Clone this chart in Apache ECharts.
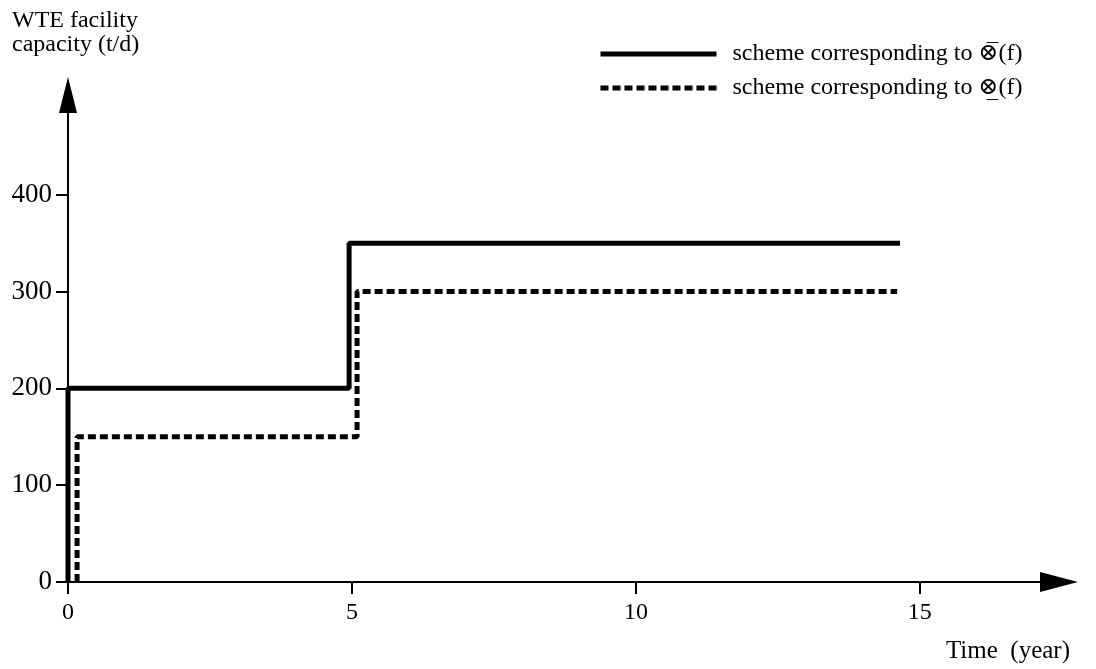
<!DOCTYPE html>
<html>
<head>
<meta charset="utf-8">
<script src="https://cdn.jsdelivr.net/npm/echarts@6/dist/echarts.min.js"></script>
<style>
html,body{margin:0;padding:0;background:#fff;}
#chart{width:1096px;height:669px;}
</style>
</head>
<body>
<div id="chart"></div>
<script>
// Data
const seriesNames = ['scheme corresponding to \u2297\u0305(f)', 'scheme corresponding to \u2297\u0332(f)'];
const solidX = [0, 0, 4.95, 4.95, 14.65];
const solidY = [0, 200, 200, 350, 350];
const dashedX = [0.16, 0.16, 5.09, 5.09, 14.6];
const dashedY = [0, 150, 150, 300, 300];
const xTicks = [0, 5, 10, 15];
const yTicks = [0, 100, 200, 300, 400];

const zip = (xs, ys) => xs.map((x, i) => [x, ys[i]]);
const serif = '"Liberation Serif", "DejaVu Serif", serif';

const chart = echarts.init(document.getElementById('chart'), null, {renderer: 'canvas'});
chart.setOption({
  backgroundColor: '#fff',
  animation: false,
  title: [
    {text: 'WTE facility\ncapacity (t/d)', left: 7, top: 4,
     textStyle: {fontFamily: serif, fontSize: 24, fontWeight: 'normal', color: '#000', lineHeight: 24}},
    {text: 'Time  (year)', right: 21, top: 634,
     textStyle: {fontFamily: serif, fontSize: 25, fontWeight: 'normal', color: '#000'}}
  ],
  legend: {
    orient: 'vertical', left: 598, top: 42, padding: 0,
    itemWidth: 116, itemHeight: 14, itemGap: 10,
    itemStyle: {opacity: 0},
    lineStyle: {width: 5},
    textStyle: {fontFamily: serif, fontSize: 24, color: '#000', padding: [0, 0, 0, 11]},
    data: seriesNames
  },
  grid: {left: 68, right: 37, top: 95, bottom: 87, containLabel: false},
  xAxis: {
    type: 'value', min: 0, max: 17.45, interval: 5,
    axisLine: {show: true, symbol: ['none', 'triangle'], symbolSize: [20, 38],
      lineStyle: {color: '#000', width: 2}},
    axisTick: {show: true, length: 12, lineStyle: {color: '#000', width: 2}, customValues: xTicks},
    axisLabel: {customValues: xTicks, fontFamily: serif, fontSize: 24, color: '#000', margin: 19},
    splitLine: {show: false}
  },
  yAxis: {
    type: 'value', min: 0, max: 503, interval: 100,
    axisLine: {show: true, symbol: ['none', 'triangle'], symbolSize: [18, 36],
      lineStyle: {color: '#000', width: 2}},
    axisTick: {show: true, length: 12, lineStyle: {color: '#000', width: 2}, customValues: yTicks},
    axisLabel: {customValues: yTicks, fontFamily: serif, fontSize: 27, color: '#000', margin: 16},
    splitLine: {show: false}
  },
  series: [
    {name: seriesNames[0], type: 'line', data: zip(solidX, solidY), showSymbol: false, symbol: 'none',
     lineStyle: {color: '#000', width: 5, type: 'solid'}, itemStyle: {color: '#000'}},
    {name: seriesNames[1], type: 'line', data: zip(dashedX, dashedY), showSymbol: false, symbol: 'none',
     lineStyle: {color: '#000', width: 5, type: [8, 4]}, itemStyle: {color: '#000'}}
  ]
});
</script>
</body>
</html>
